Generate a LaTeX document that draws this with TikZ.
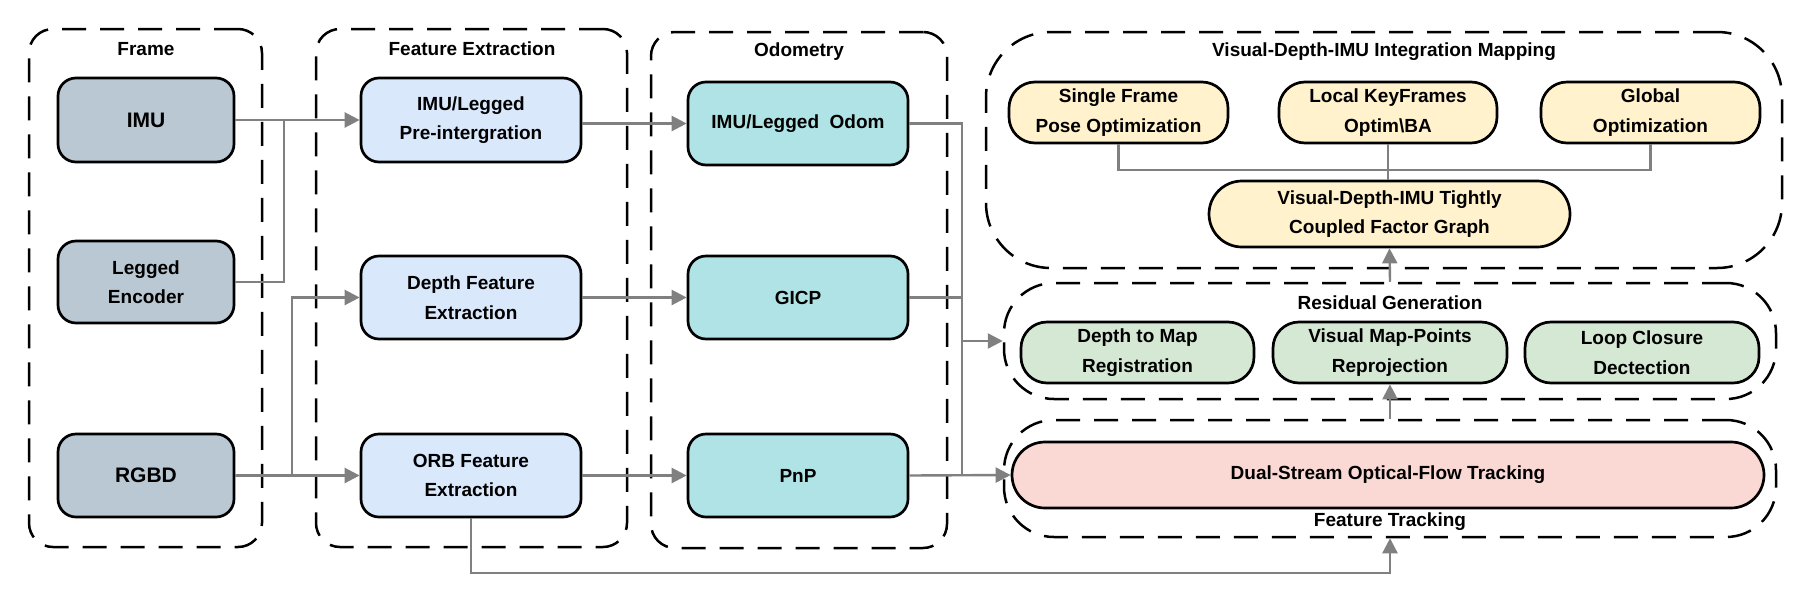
\documentclass[tikz,border=0pt]{standalone}
\usepackage{fontspec}
\setmainfont{Liberation Sans}
\usetikzlibrary{arrows.meta,calc}
\definecolor{cframe}{HTML}{BAC8D3}
\definecolor{cfeat}{HTML}{DAE8FC}
\definecolor{codom}{HTML}{B0E3E6}
\definecolor{cmapc}{HTML}{FFF2CC}
\definecolor{cresc}{HTML}{D5E8D4}
\definecolor{ctrk}{HTML}{FAD9D5}
\definecolor{cline}{HTML}{808080}
\tikzset{
  box/.style={draw=black, line width=2.7pt, rounded corners=18pt, align=center, inner sep=0pt},
  fonta/.style={font=\bfseries\fontsize{19}{29.5}\selectfont},
  fontbig/.style={font=\bfseries\fontsize{21}{29}\selectfont},
  grp/.style={draw=black, line width=2.5pt, dash pattern=on 24pt off 14pt, rounded corners=#1},
  grp/.default=24pt,
  ln/.style={draw=cline, line width=2.4pt},
  arr/.style={ln, -{Triangle[length=15pt,width=15pt]}},
}
\begin{document}
\begin{tikzpicture}[x=1pt,y=-1pt]
\useasboundingbox (0,0) rectangle (1812,595);
% containers
\node[grp, minimum width=233, minimum height=518] (cf) at (145.5,288) {};
\node[grp, minimum width=311, minimum height=518] (cfe) at (471.5,288) {};
\node[grp, minimum width=296, minimum height=516] (cod) at (799,290) {};
\node[grp=65pt, minimum width=796, minimum height=236] (cmap) at (1384,150) {};
\node[grp=50pt, minimum width=772, minimum height=116] (cres) at (1390,341) {};
\node[grp=50pt, minimum width=772, minimum height=117] (cft) at (1390,478.5) {};
% container labels
\node[fonta] (lf) at (146,49) {Frame};
\node[fonta] (lfe) at (472,49) {Feature Extraction};
\node[fonta] (lod) at (799,52) {Odometry};
\node[fonta] (lmap) at (1384,52) {Visual-Depth-IMU Integration Mapping};
\node[fonta] (lres) at (1390,303) {Residual Generation};
\node[fonta] (lft) at (1390,522) {Feature Tracking};
% frame
\node[box, fill=cframe, fontbig, minimum width=176, minimum height=84] (imu) at (146,120) {IMU};
\node[box, fill=cframe, fonta, minimum width=176, minimum height=82] (leg) at (146,282) {Legged\\Encoder};
\node[box, fill=cframe, fontbig, minimum width=176, minimum height=83] (rgbd) at (146,475.5) {RGBD};
% feature extraction
\node[box, fill=cfeat, fonta, minimum width=220, minimum height=84] (pre) at (471,120) {IMU/Legged\\Pre-intergration};
\node[box, fill=cfeat, fonta, minimum width=220, minimum height=83] (dep) at (471,297.5) {Depth Feature\\Extraction};
\node[box, fill=cfeat, fonta, minimum width=220, minimum height=83] (orb) at (471,475.5) {ORB Feature\\Extraction};
% odometry
\node[box, fill=codom, fonta, minimum width=220, minimum height=83] (odom) at (798,123.5) {IMU/Legged~~Odom};
\node[box, fill=codom, fonta, minimum width=220, minimum height=83] (gicp) at (798,297.5) {GICP};
\node[box, fill=codom, fonta, minimum width=220, minimum height=83] (pnp) at (798,475.5) {PnP};
% mapping
\node[box, fill=cmapc, fonta, rounded corners=26pt, minimum width=219, minimum height=61] (sf) at (1118.5,112.5) {Single Frame\\Pose Optimization};
\node[box, fill=cmapc, fonta, rounded corners=26pt, minimum width=218, minimum height=61] (lk) at (1388,112.5) {Local KeyFrames\\Optim\textbackslash BA};
\node[box, fill=cmapc, fonta, rounded corners=26pt, minimum width=219, minimum height=61] (gl) at (1650.5,112.5) {Global\\Optimization};
\node[box, fill=cmapc, fonta, rounded corners=33pt, minimum width=361, minimum height=66] (tc) at (1389.5,214) {Visual-Depth-IMU Tightly\\Coupled Factor Graph};
% residual
\node[box, fill=cresc, fonta, rounded corners=26pt, minimum width=233, minimum height=61] (dm) at (1137.5,352.5) {Depth to Map\\Registration};
\node[box, fill=cresc, fonta, rounded corners=26pt, minimum width=234, minimum height=61] (vm) at (1390,352.5) {Visual Map-Points\\Reprojection};
\node[box, fill=cresc, fonta, rounded corners=26pt, minimum width=234, minimum height=61] (lc) at (1642,352.5) {Loop Closure\\Dectection};
% tracking
\node[box, fill=ctrk, fonta, rounded corners=33pt, minimum width=752, minimum height=66] (ds) at (1388,475) {Dual-Stream Optical-Flow Tracking};
% connectors
\coordinate (j1) at (284,120);
\coordinate (j2) at (292,475.5);
\coordinate (j3) at (962,123.5);
\coordinate (j4) at (471,573);
\coordinate (j5) at (1390,170);
\draw[arr] (imu.east) -- (pre.west);
\draw[ln] (leg.east) -| (j1);
\draw[arr] (rgbd.east) -- (orb.west);
\draw[arr] (j2) |- (dep.west);
\draw[arr] (pre.east |- odom.west) -- (odom.west);
\draw[arr] (dep.east) -- (gicp.west);
\draw[arr] (orb.east) -- (pnp.west);
\draw[ln] (odom.east) -- (j3) -- (j3 |- pnp.east);
\draw[ln] (gicp.east) -- (j3 |- gicp.east);
\draw[arr] (pnp.east) -- (ds.west);
\draw[arr] (j3 |- cres.west) -- (cres.west);
\draw[arr] (orb.south) -- (j4) -| (cft.south);
\draw[arr] (cft.north) -- (vm.south);
\draw[arr] (cres.north) -- (tc.south);
\draw[ln] (sf.south) |- (gl.south |- j5) -- (gl.south);
\draw[ln] (lk.south) -- (lk.south |- tc.north);
\end{tikzpicture}
\end{document}
